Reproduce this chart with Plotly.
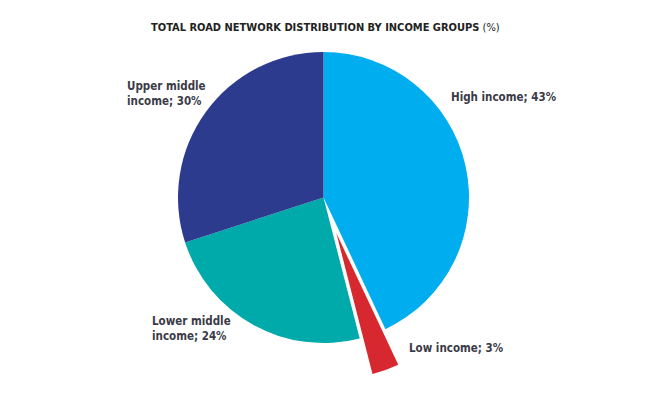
import plotly.graph_objects as go

labels = ["High income", "Low income", "Lower middle income", "Upper middle income"]
values = [43, 3, 24, 30]
pulls = [0, 0.26, 0, 0]
colors = ["#00AEEF", "#D7282F", "#00A9AA", "#2C3B8E"]

label_texts = ["High income; 43%", "Low income; 3%", "Lower middle<br>income; 24%", "Upper middle<br>income; 30%"]

W, H = 650, 394
cx, cy, r = 323.5, 197.5, 145.5
half = r * (1 + max(pulls))

fig = go.Figure(go.Pie(
    labels=labels,
    values=values,
    pull=pulls,
    marker=dict(colors=colors, line=dict(width=0)),
    sort=False,
    direction="clockwise",
    rotation=0,
    textinfo="none",
    hoverinfo="label+percent",
    showlegend=False,
    domain=dict(x=[(cx - half) / W, (cx + half) / W],
                y=[(H - cy - half) / H, (H - cy + half) / H]),
))

font_family = "DejaVu Sans Condensed, Liberation Sans Narrow, Arial Narrow, sans-serif"
txt_color = "#3B3B47"

label_pos = [(449, 97.5), (407, 348), (150, 328), (125, 93.5)]

annotations = []
for t, (px, py) in zip(label_texts, label_pos):
    annotations.append(dict(
        x=px / W, y=1 - py / H, xref="paper", yref="paper",
        text="<b>" + t + "</b>", showarrow=False,
        xanchor="left", yanchor="middle", align="left",
        font=dict(family=font_family, size=11.5, color=txt_color),
    ))

annotations.append(dict(
    x=325 / W, y=1 - 27.5 / H, xref="paper", yref="paper",
    text="<b>TOTAL ROAD NETWORK DISTRIBUTION BY INCOME GROUPS</b> (%)",
    showarrow=False, xanchor="center", yanchor="middle",
    font=dict(family=font_family, size=11, color="#222222"),
))

fig.update_layout(
    width=W, height=H,
    margin=dict(l=0, r=0, t=0, b=0),
    paper_bgcolor="white",
    plot_bgcolor="white",
    annotations=annotations,
)

fig.write_html("out.html", config={"displayModeBar": False},
               post_script="document.body.style.margin='0';")
